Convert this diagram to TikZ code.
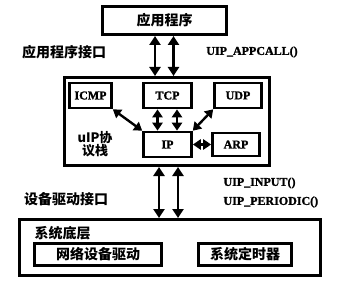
\documentclass[tikz,border=0pt]{standalone}
\usepackage{fontspec}
\setmainfont{Noto Sans CJK SC}[BoldFont={Noto Sans CJK SC Black}]
\newfontfamily\latinfont{Liberation Serif}[BoldFeatures={FakeBold=1.5}]
\usetikzlibrary{arrows.meta,positioning,calc}

\begin{document}
\begin{tikzpicture}[x=1pt, y=1pt,
    layer/.style={draw, line width=3pt, inner sep=0pt},
    box/.style={draw, line width=2.6pt, minimum height=25pt, inner sep=0pt},
    cn/.style={font=\fontsize{14}{16}\selectfont\bfseries},
    en/.style={font=\latinfont\fontsize{12}{19}\selectfont\bfseries},
    link/.style={{Triangle[length=9pt,width=11pt]}-{Triangle[length=9pt,width=11pt]}, line width=2.6pt},
    small link/.style={{Triangle[length=8pt,width=10pt]}-{Triangle[length=8pt,width=10pt]}, line width=2.4pt}]
    \useasboundingbox (0,0) rectangle (345,287);

    % application
    \node[layer, minimum width=124pt, minimum height=28pt, cn] (app) at (164.5,266.5) {应用程序};

    % uIP stack
    \node[layer, minimum width=205pt, minimum height=88pt] (stack) at (167,165.5) {};
    \node[box, minimum width=42pt, en] (icmp) at (90.5,191.5) {ICMP};
    \node[box, minimum width=48pt, en] (tcp) at (167.5,191.5) {TCP};
    \node[box, minimum width=47pt, en] (udp) at (238,191.5) {UDP};
    \node[box, minimum width=48pt, en] (ip) at (167.5,142.5) {IP};
    \node[box, minimum width=47pt, minimum height=23pt, en] (arp) at (236,142.5) {ARP};
    \node[font=\fontsize{13}{13}\selectfont\bfseries, align=center] (uip) at (95,143) {uIP协\\议栈};

    % system layer
    \node[layer, minimum width=301pt, minimum height=56pt] (base) at (170,39.5) {};
    \node[cn, anchor=west] (low) at (31,54) {系统底层};
    \node[box, minimum width=127pt, minimum height=22pt, cn] (nic) at (98,32.5) {网络设备驱动};
    \node[box, minimum width=93pt, minimum height=22pt, cn] (timer) at (245,32.5) {系统定时器};

    % interface labels
    \node[cn] (apif) at (64,235) {应用程序接口};
    \node[en] (call) at (252,235) {UIP\_APPCALL()};
    \node[cn] (drif) at (66,88) {设备驱动接口};
    \node[en, align=left, anchor=west] (drv) at (220,94.5) {UIP\_INPUT()\\UIP\_PERIODIC()};

    % arrows
    \foreach \dx in {-12.5,6}
        \draw[link] ($(app.south -| tcp)+(\dx,0)$) -- ($(stack.north -| tcp)+(\dx,0)$);
    \foreach \dx in {-10,9.5}
        \draw[small link] ($(tcp.south)+(\dx,0)$) -- ($(ip.north)+(\dx,0)$);
    \draw[small link] (icmp.south east) -- (ip.north west);
    \draw[small link] (udp.south west) -- (ip.north east);
    \draw[small link] (ip) -- (arp);
    \foreach \dx in {-8.5,10.5}
        \draw[link] ($(stack.south -| tcp)+(\dx,0)$) -- ($(base.north -| tcp)+(\dx,0)$);
\end{tikzpicture}
\end{document}
